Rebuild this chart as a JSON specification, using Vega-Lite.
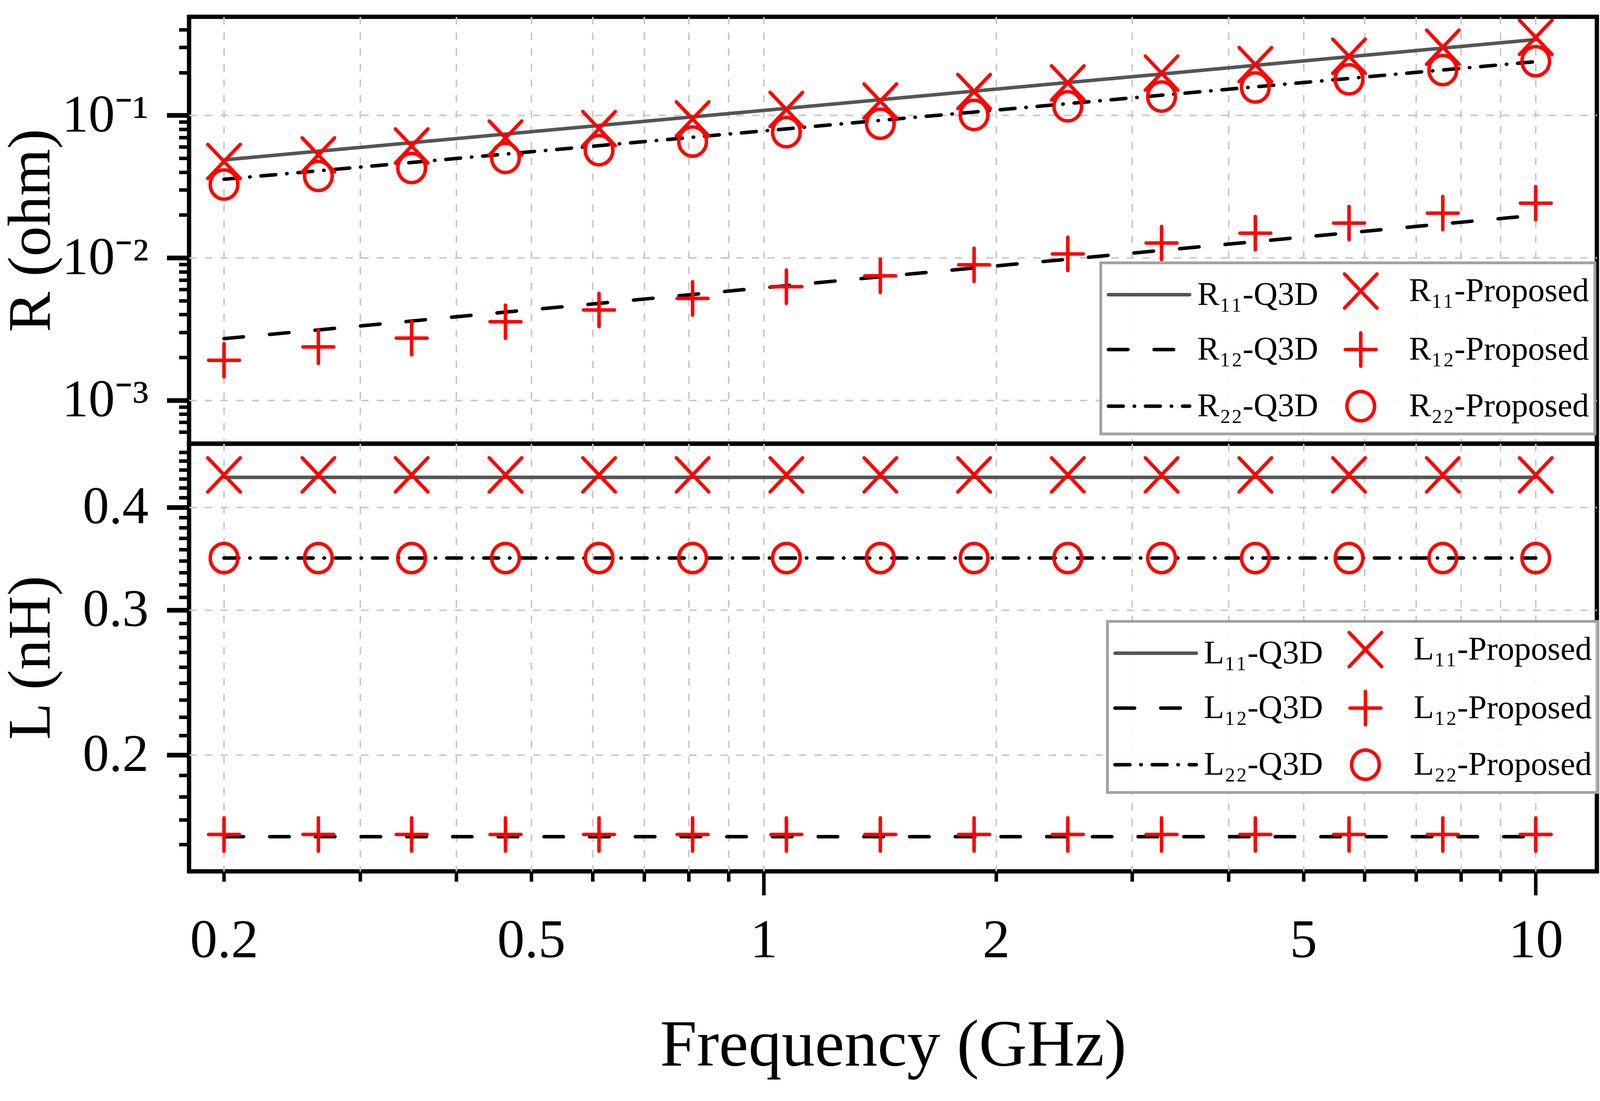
{
  "$schema": "https://vega.github.io/schema/vega-lite/v6.json",
  "background": "white",
  "padding": {"left": -4, "top": 3, "right": 5, "bottom": 5},
  "config": {
    "font": "Liberation Serif",
    "view": {"stroke": "black", "strokeWidth": 11},
    "axis": {
      "labelFont": "Liberation Serif", "titleFont": "Liberation Serif",
      "labelColor": "black", "titleColor": "black", "titleFontWeight": "normal",
      "gridColor": "#c8c8c8", "gridDash": [19, 21], "gridWidth": 4,
      "domain": false, "tickColor": "black", "labelFontSize": 140, "titleFontSize": 155,
      "labelOverlap": false, "labelFlush": false, "labelBound": false, "labelLimit": 2000
    },
    "legend": {"labelFont": "Liberation Serif", "labelColor": "black"}
  },
  "datasets": {
    "R": [
      {"f":0.2,"v":0.0487,"series":"R₁₁-Q3D","kind":"Q3D"},{"f":0.265,"v":0.056,"series":"R₁₁-Q3D","kind":"Q3D"},{"f":0.35,"v":0.0643,"series":"R₁₁-Q3D","kind":"Q3D"},{"f":0.463,"v":0.0739,"series":"R₁₁-Q3D","kind":"Q3D"},{"f":0.612,"v":0.0849,"series":"R₁₁-Q3D","kind":"Q3D"},{"f":0.809,"v":0.0976,"series":"R₁₁-Q3D","kind":"Q3D"},{"f":1.07,"v":0.112,"series":"R₁₁-Q3D","kind":"Q3D"},{"f":1.416,"v":0.1288,"series":"R₁₁-Q3D","kind":"Q3D"},{"f":1.873,"v":0.148,"series":"R₁₁-Q3D","kind":"Q3D"},{"f":2.477,"v":0.17,"series":"R₁₁-Q3D","kind":"Q3D"},{"f":3.276,"v":0.195,"series":"R₁₁-Q3D","kind":"Q3D"},{"f":4.333,"v":0.2245,"series":"R₁₁-Q3D","kind":"Q3D"},{"f":5.73,"v":0.258,"series":"R₁₁-Q3D","kind":"Q3D"},{"f":7.579,"v":0.2966,"series":"R₁₁-Q3D","kind":"Q3D"},{"f":10,"v":0.3405,"series":"R₁₁-Q3D","kind":"Q3D"},
      {"f":0.2,"v":0.0475,"series":"R₁₁-Proposed","kind":"Proposed"},{"f":0.265,"v":0.0528,"series":"R₁₁-Proposed","kind":"Proposed"},{"f":0.35,"v":0.061,"series":"R₁₁-Proposed","kind":"Proposed"},{"f":0.463,"v":0.0693,"series":"R₁₁-Proposed","kind":"Proposed"},{"f":0.612,"v":0.0807,"series":"R₁₁-Proposed","kind":"Proposed"},{"f":0.809,"v":0.0944,"series":"R₁₁-Proposed","kind":"Proposed"},{"f":1.07,"v":0.11,"series":"R₁₁-Proposed","kind":"Proposed"},{"f":1.416,"v":0.126,"series":"R₁₁-Proposed","kind":"Proposed"},{"f":1.873,"v":0.147,"series":"R₁₁-Proposed","kind":"Proposed"},{"f":2.477,"v":0.169,"series":"R₁₁-Proposed","kind":"Proposed"},{"f":3.276,"v":0.198,"series":"R₁₁-Proposed","kind":"Proposed"},{"f":4.333,"v":0.227,"series":"R₁₁-Proposed","kind":"Proposed"},{"f":5.73,"v":0.26,"series":"R₁₁-Proposed","kind":"Proposed"},{"f":7.579,"v":0.301,"series":"R₁₁-Proposed","kind":"Proposed"},{"f":10,"v":0.353,"series":"R₁₁-Proposed","kind":"Proposed"},
      {"f":0.2,"v":0.00271,"series":"R₁₂-Q3D","kind":"Q3D"},{"f":0.265,"v":0.00312,"series":"R₁₂-Q3D","kind":"Q3D"},{"f":0.35,"v":0.0036,"series":"R₁₂-Q3D","kind":"Q3D"},{"f":0.463,"v":0.00416,"series":"R₁₂-Q3D","kind":"Q3D"},{"f":0.612,"v":0.00479,"series":"R₁₂-Q3D","kind":"Q3D"},{"f":0.809,"v":0.00553,"series":"R₁₂-Q3D","kind":"Q3D"},{"f":1.07,"v":0.00638,"series":"R₁₂-Q3D","kind":"Q3D"},{"f":1.416,"v":0.00736,"series":"R₁₂-Q3D","kind":"Q3D"},{"f":1.873,"v":0.00849,"series":"R₁₂-Q3D","kind":"Q3D"},{"f":2.477,"v":0.00978,"series":"R₁₂-Q3D","kind":"Q3D"},{"f":3.276,"v":0.01128,"series":"R₁₂-Q3D","kind":"Q3D"},{"f":4.333,"v":0.013,"series":"R₁₂-Q3D","kind":"Q3D"},{"f":5.73,"v":0.015,"series":"R₁₂-Q3D","kind":"Q3D"},{"f":7.579,"v":0.0173,"series":"R₁₂-Q3D","kind":"Q3D"},{"f":10,"v":0.0199,"series":"R₁₂-Q3D","kind":"Q3D"},
      {"f":0.2,"v":0.00191,"series":"R₁₂-Proposed","kind":"Proposed"},{"f":0.265,"v":0.00237,"series":"R₁₂-Proposed","kind":"Proposed"},{"f":0.35,"v":0.00273,"series":"R₁₂-Proposed","kind":"Proposed"},{"f":0.463,"v":0.00356,"series":"R₁₂-Proposed","kind":"Proposed"},{"f":0.612,"v":0.0043,"series":"R₁₂-Proposed","kind":"Proposed"},{"f":0.809,"v":0.00519,"series":"R₁₂-Proposed","kind":"Proposed"},{"f":1.07,"v":0.00627,"series":"R₁₂-Proposed","kind":"Proposed"},{"f":1.416,"v":0.00748,"series":"R₁₂-Proposed","kind":"Proposed"},{"f":1.873,"v":0.00893,"series":"R₁₂-Proposed","kind":"Proposed"},{"f":2.477,"v":0.01065,"series":"R₁₂-Proposed","kind":"Proposed"},{"f":3.276,"v":0.0127,"series":"R₁₂-Proposed","kind":"Proposed"},{"f":4.333,"v":0.0149,"series":"R₁₂-Proposed","kind":"Proposed"},{"f":5.73,"v":0.01754,"series":"R₁₂-Proposed","kind":"Proposed"},{"f":7.579,"v":0.0206,"series":"R₁₂-Proposed","kind":"Proposed"},{"f":10,"v":0.0242,"series":"R₁₂-Proposed","kind":"Proposed"},
      {"f":0.2,"v":0.0356,"series":"R₂₂-Q3D","kind":"Q3D"},{"f":0.265,"v":0.0408,"series":"R₂₂-Q3D","kind":"Q3D"},{"f":0.35,"v":0.0467,"series":"R₂₂-Q3D","kind":"Q3D"},{"f":0.463,"v":0.0535,"series":"R₂₂-Q3D","kind":"Q3D"},{"f":0.612,"v":0.0613,"series":"R₂₂-Q3D","kind":"Q3D"},{"f":0.809,"v":0.0702,"series":"R₂₂-Q3D","kind":"Q3D"},{"f":1.07,"v":0.0804,"series":"R₂₂-Q3D","kind":"Q3D"},{"f":1.416,"v":0.0922,"series":"R₂₂-Q3D","kind":"Q3D"},{"f":1.873,"v":0.1055,"series":"R₂₂-Q3D","kind":"Q3D"},{"f":2.477,"v":0.1209,"series":"R₂₂-Q3D","kind":"Q3D"},{"f":3.276,"v":0.1385,"series":"R₂₂-Q3D","kind":"Q3D"},{"f":4.333,"v":0.1586,"series":"R₂₂-Q3D","kind":"Q3D"},{"f":5.73,"v":0.1816,"series":"R₂₂-Q3D","kind":"Q3D"},{"f":7.579,"v":0.2083,"series":"R₂₂-Q3D","kind":"Q3D"},{"f":10,"v":0.2382,"series":"R₂₂-Q3D","kind":"Q3D"},
      {"f":0.2,"v":0.0327,"series":"R₂₂-Proposed","kind":"Proposed"},{"f":0.265,"v":0.0376,"series":"R₂₂-Proposed","kind":"Proposed"},{"f":0.35,"v":0.0427,"series":"R₂₂-Proposed","kind":"Proposed"},{"f":0.463,"v":0.0503,"series":"R₂₂-Proposed","kind":"Proposed"},{"f":0.612,"v":0.057,"series":"R₂₂-Proposed","kind":"Proposed"},{"f":0.809,"v":0.0655,"series":"R₂₂-Proposed","kind":"Proposed"},{"f":1.07,"v":0.0762,"series":"R₂₂-Proposed","kind":"Proposed"},{"f":1.416,"v":0.0873,"series":"R₂₂-Proposed","kind":"Proposed"},{"f":1.873,"v":0.1007,"series":"R₂₂-Proposed","kind":"Proposed"},{"f":2.477,"v":0.1157,"series":"R₂₂-Proposed","kind":"Proposed"},{"f":3.276,"v":0.1355,"series":"R₂₂-Proposed","kind":"Proposed"},{"f":4.333,"v":0.157,"series":"R₂₂-Proposed","kind":"Proposed"},{"f":5.73,"v":0.179,"series":"R₂₂-Proposed","kind":"Proposed"},{"f":7.579,"v":0.208,"series":"R₂₂-Proposed","kind":"Proposed"},{"f":10,"v":0.24,"series":"R₂₂-Proposed","kind":"Proposed"}
    ],
    "L": [
      {"f":0.2,"v":0.435,"series":"L₁₁-Q3D","kind":"Q3D"},{"f":0.265,"v":0.435,"series":"L₁₁-Q3D","kind":"Q3D"},{"f":0.35,"v":0.435,"series":"L₁₁-Q3D","kind":"Q3D"},{"f":0.463,"v":0.435,"series":"L₁₁-Q3D","kind":"Q3D"},{"f":0.612,"v":0.435,"series":"L₁₁-Q3D","kind":"Q3D"},{"f":0.809,"v":0.435,"series":"L₁₁-Q3D","kind":"Q3D"},{"f":1.07,"v":0.435,"series":"L₁₁-Q3D","kind":"Q3D"},{"f":1.416,"v":0.435,"series":"L₁₁-Q3D","kind":"Q3D"},{"f":1.873,"v":0.435,"series":"L₁₁-Q3D","kind":"Q3D"},{"f":2.477,"v":0.435,"series":"L₁₁-Q3D","kind":"Q3D"},{"f":3.276,"v":0.435,"series":"L₁₁-Q3D","kind":"Q3D"},{"f":4.333,"v":0.435,"series":"L₁₁-Q3D","kind":"Q3D"},{"f":5.73,"v":0.435,"series":"L₁₁-Q3D","kind":"Q3D"},{"f":7.579,"v":0.435,"series":"L₁₁-Q3D","kind":"Q3D"},{"f":10,"v":0.435,"series":"L₁₁-Q3D","kind":"Q3D"},
      {"f":0.2,"v":0.438,"series":"L₁₁-Proposed","kind":"Proposed"},{"f":0.265,"v":0.438,"series":"L₁₁-Proposed","kind":"Proposed"},{"f":0.35,"v":0.438,"series":"L₁₁-Proposed","kind":"Proposed"},{"f":0.463,"v":0.438,"series":"L₁₁-Proposed","kind":"Proposed"},{"f":0.612,"v":0.438,"series":"L₁₁-Proposed","kind":"Proposed"},{"f":0.809,"v":0.438,"series":"L₁₁-Proposed","kind":"Proposed"},{"f":1.07,"v":0.438,"series":"L₁₁-Proposed","kind":"Proposed"},{"f":1.416,"v":0.438,"series":"L₁₁-Proposed","kind":"Proposed"},{"f":1.873,"v":0.438,"series":"L₁₁-Proposed","kind":"Proposed"},{"f":2.477,"v":0.438,"series":"L₁₁-Proposed","kind":"Proposed"},{"f":3.276,"v":0.438,"series":"L₁₁-Proposed","kind":"Proposed"},{"f":4.333,"v":0.438,"series":"L₁₁-Proposed","kind":"Proposed"},{"f":5.73,"v":0.438,"series":"L₁₁-Proposed","kind":"Proposed"},{"f":7.579,"v":0.438,"series":"L₁₁-Proposed","kind":"Proposed"},{"f":10,"v":0.438,"series":"L₁₁-Proposed","kind":"Proposed"},
      {"f":0.2,"v":0.159,"series":"L₁₂-Q3D","kind":"Q3D"},{"f":0.265,"v":0.159,"series":"L₁₂-Q3D","kind":"Q3D"},{"f":0.35,"v":0.159,"series":"L₁₂-Q3D","kind":"Q3D"},{"f":0.463,"v":0.159,"series":"L₁₂-Q3D","kind":"Q3D"},{"f":0.612,"v":0.159,"series":"L₁₂-Q3D","kind":"Q3D"},{"f":0.809,"v":0.159,"series":"L₁₂-Q3D","kind":"Q3D"},{"f":1.07,"v":0.159,"series":"L₁₂-Q3D","kind":"Q3D"},{"f":1.416,"v":0.159,"series":"L₁₂-Q3D","kind":"Q3D"},{"f":1.873,"v":0.159,"series":"L₁₂-Q3D","kind":"Q3D"},{"f":2.477,"v":0.159,"series":"L₁₂-Q3D","kind":"Q3D"},{"f":3.276,"v":0.159,"series":"L₁₂-Q3D","kind":"Q3D"},{"f":4.333,"v":0.159,"series":"L₁₂-Q3D","kind":"Q3D"},{"f":5.73,"v":0.159,"series":"L₁₂-Q3D","kind":"Q3D"},{"f":7.579,"v":0.159,"series":"L₁₂-Q3D","kind":"Q3D"},{"f":10,"v":0.159,"series":"L₁₂-Q3D","kind":"Q3D"},
      {"f":0.2,"v":0.16,"series":"L₁₂-Proposed","kind":"Proposed"},{"f":0.265,"v":0.16,"series":"L₁₂-Proposed","kind":"Proposed"},{"f":0.35,"v":0.16,"series":"L₁₂-Proposed","kind":"Proposed"},{"f":0.463,"v":0.16,"series":"L₁₂-Proposed","kind":"Proposed"},{"f":0.612,"v":0.16,"series":"L₁₂-Proposed","kind":"Proposed"},{"f":0.809,"v":0.16,"series":"L₁₂-Proposed","kind":"Proposed"},{"f":1.07,"v":0.16,"series":"L₁₂-Proposed","kind":"Proposed"},{"f":1.416,"v":0.16,"series":"L₁₂-Proposed","kind":"Proposed"},{"f":1.873,"v":0.16,"series":"L₁₂-Proposed","kind":"Proposed"},{"f":2.477,"v":0.16,"series":"L₁₂-Proposed","kind":"Proposed"},{"f":3.276,"v":0.16,"series":"L₁₂-Proposed","kind":"Proposed"},{"f":4.333,"v":0.16,"series":"L₁₂-Proposed","kind":"Proposed"},{"f":5.73,"v":0.16,"series":"L₁₂-Proposed","kind":"Proposed"},{"f":7.579,"v":0.16,"series":"L₁₂-Proposed","kind":"Proposed"},{"f":10,"v":0.16,"series":"L₁₂-Proposed","kind":"Proposed"},
      {"f":0.2,"v":0.347,"series":"L₂₂-Q3D","kind":"Q3D"},{"f":0.265,"v":0.347,"series":"L₂₂-Q3D","kind":"Q3D"},{"f":0.35,"v":0.347,"series":"L₂₂-Q3D","kind":"Q3D"},{"f":0.463,"v":0.347,"series":"L₂₂-Q3D","kind":"Q3D"},{"f":0.612,"v":0.347,"series":"L₂₂-Q3D","kind":"Q3D"},{"f":0.809,"v":0.347,"series":"L₂₂-Q3D","kind":"Q3D"},{"f":1.07,"v":0.347,"series":"L₂₂-Q3D","kind":"Q3D"},{"f":1.416,"v":0.347,"series":"L₂₂-Q3D","kind":"Q3D"},{"f":1.873,"v":0.347,"series":"L₂₂-Q3D","kind":"Q3D"},{"f":2.477,"v":0.347,"series":"L₂₂-Q3D","kind":"Q3D"},{"f":3.276,"v":0.347,"series":"L₂₂-Q3D","kind":"Q3D"},{"f":4.333,"v":0.347,"series":"L₂₂-Q3D","kind":"Q3D"},{"f":5.73,"v":0.347,"series":"L₂₂-Q3D","kind":"Q3D"},{"f":7.579,"v":0.347,"series":"L₂₂-Q3D","kind":"Q3D"},{"f":10,"v":0.347,"series":"L₂₂-Q3D","kind":"Q3D"},
      {"f":0.2,"v":0.347,"series":"L₂₂-Proposed","kind":"Proposed"},{"f":0.265,"v":0.347,"series":"L₂₂-Proposed","kind":"Proposed"},{"f":0.35,"v":0.347,"series":"L₂₂-Proposed","kind":"Proposed"},{"f":0.463,"v":0.347,"series":"L₂₂-Proposed","kind":"Proposed"},{"f":0.612,"v":0.347,"series":"L₂₂-Proposed","kind":"Proposed"},{"f":0.809,"v":0.347,"series":"L₂₂-Proposed","kind":"Proposed"},{"f":1.07,"v":0.347,"series":"L₂₂-Proposed","kind":"Proposed"},{"f":1.416,"v":0.347,"series":"L₂₂-Proposed","kind":"Proposed"},{"f":1.873,"v":0.347,"series":"L₂₂-Proposed","kind":"Proposed"},{"f":2.477,"v":0.347,"series":"L₂₂-Proposed","kind":"Proposed"},{"f":3.276,"v":0.347,"series":"L₂₂-Proposed","kind":"Proposed"},{"f":4.333,"v":0.347,"series":"L₂₂-Proposed","kind":"Proposed"},{"f":5.73,"v":0.347,"series":"L₂₂-Proposed","kind":"Proposed"},{"f":7.579,"v":0.347,"series":"L₂₂-Proposed","kind":"Proposed"},{"f":10,"v":0.347,"series":"L₂₂-Proposed","kind":"Proposed"}
    ]
  },
  "spacing": 0,
  "bounds": "flush",
  "resolve": {"scale": {"color": "independent", "shape": "independent", "strokeDash": "independent"}, "legend": {"color": "independent", "shape": "independent", "strokeDash": "independent"}},
  "vconcat": [
    {
      "width": 3604, "height": 1093,
      "data": {"name": "R"},
      "encoding": {
        "x": {"field": "f", "type": "quantitative",
          "scale": {"type": "log", "domain": [0.1802, 12], "nice": false},
          "axis": {"values": [0.2,0.3,0.4,0.5,0.6,0.7,0.8,0.9,1,2,3,4,5,6,7,8,9,10], "labels": false, "ticks": false, "title": null, "grid": true}},
        "y": {"field": "v", "type": "quantitative",
          "scale": {"type": "log", "domain": [0.000496, 0.492], "nice": false},
          "axis": {
            "values": [0.0006,0.0007,0.0008,0.0009,0.001,0.002,0.003,0.004,0.005,0.006,0.007,0.008,0.009,0.01,0.02,0.03,0.04,0.05,0.06,0.07,0.08,0.09,0.1,0.2,0.3,0.4],
            "title": "R (ohm)", "titleX": -325, "labelFontSize": 135,
            "labelExpr": "datum.value == 0.1 ? '10⁻¹' : datum.value == 0.01 ? '10⁻²' : datum.value == 0.001 ? '10⁻³' : ''",
            "tickSize": {"condition": {"test": "indexof([0.001,0.01,0.1], datum.value) >= 0", "value": 57}, "value": 26},
            "tickWidth": {"condition": {"test": "indexof([0.001,0.01,0.1], datum.value) >= 0", "value": 12}, "value": 9},
            "gridOpacity": {"condition": {"test": "indexof([0.001,0.01,0.1], datum.value) >= 0", "value": 1}, "value": 0},
            "labelPadding": 47, "grid": true
          }},
        "color": {"field": "series", "type": "nominal",
          "scale": {"domain": ["R₁₁-Q3D","R₁₁-Proposed","R₁₂-Q3D","R₁₂-Proposed","R₂₂-Q3D","R₂₂-Proposed"],
                    "range": ["#555555","#ff0000","#000000","#ff0000","#000000","#ff0000"]},
          "legend": {
            "orient": "none", "direction": "horizontal", "legendX": 2334, "legendY": 630, "columns": 2, "title": null,
            "symbolSize": 43264, "symbolStrokeWidth": 9, "labelFontSize": 85, "labelLimit": 2000,
            "labelOffset": 15, "columnPadding": 0, "rowPadding": 27, "padding": 15, "symbolOffset": 0,
            "strokeColor": "#a0a0a0", "fillColor": "rgba(255,255,255,0.88)",
            "encode": {
              "symbols": {"update": {"y": {"value": 57}, "strokeCap": {"value": "round"}, "fill": {"value": "transparent"}, "opacity": {"value": 1}}},
              "labels": {"update": {"y": {"value": 57}}},
              "legend": {"update": {"strokeWidth": {"value": 7}}}
            }
          }}
      },
      "layer": [
        {
          "transform": [{"filter": "datum.kind == 'Q3D'"}],
          "mark": {"type": "line", "strokeWidth": 9, "strokeCap": "round"},
          "encoding": {
            "strokeDash": {"field": "series", "type": "nominal",
              "scale": {"domain": ["R₁₁-Q3D","R₁₁-Proposed","R₁₂-Q3D","R₁₂-Proposed","R₂₂-Q3D","R₂₂-Proposed"],
                        "range": [[1,0],[1,0],[50,67],[1,0],[38,28,1,28],[1,0]]}}
          }
        },
        {
          "transform": [{"filter": "datum.kind == 'Proposed'"}],
          "mark": {"type": "point", "filled": false, "strokeWidth": 9, "strokeCap": "round", "size": 43264, "opacity": 1},
          "encoding": {
            "shape": {"field": "series", "type": "nominal",
              "scale": {"domain": ["R₁₁-Q3D","R₁₁-Proposed","R₁₂-Q3D","R₁₂-Proposed","R₂₂-Q3D","R₂₂-Proposed"],
                        "range": ["M-1,0L1,0","M-0.4,-0.42L0.4,0.42M-0.4,0.42L0.4,-0.42","M-1,0L1,0","M-0.38,0L0.38,0M0,-0.41L0,0.41","M-1,0L1,0","M0.34,0A0.34,0.36,0,1,1,-0.34,0A0.34,0.36,0,1,1,0.34,0Z"]}}
          }
        }
      ]
    },
    {
      "width": 3604, "height": 1095,
      "data": {"name": "L"},
      "encoding": {
        "x": {"field": "f", "type": "quantitative",
          "scale": {"type": "log", "domain": [0.1802, 12], "nice": false},
          "axis": {"values": [0.2,0.3,0.4,0.5,0.6,0.7,0.8,0.9,1,2,3,4,5,6,7,8,9,10],
            "title": "Frequency (GHz)", "titleFontSize": 170, "titleY": 362,
            "labelExpr": "indexof([0.2,0.5,1,2,5,10], datum.value) >= 0 ? toString(datum.value) : ''",
            "tickSize": {"condition": {"test": "datum.value == 1 || datum.value == 10", "value": 61}, "value": 26},
            "labelPadding": {"condition": {"test": "datum.value == 1 || datum.value == 10", "value": 47}, "value": 82},
            "tickWidth": 9, "grid": true
          }},
        "y": {"field": "v", "type": "quantitative",
          "scale": {"type": "log", "domain": [0.1443, 0.478], "nice": false},
          "axis": {
            "values": [0.15556,0.16667,0.17778,0.18889,0.2,0.21111,0.22222,0.23333,0.24444,0.25556,0.26667,0.27778,0.28889,0.3,0.31111,0.32222,0.33333,0.34444,0.35556,0.36667,0.37778,0.38889,0.4,0.41111,0.42222,0.43333,0.44444,0.45556,0.46667],
            "title": "L (nH)", "titleX": -325, "labelFontSize": 135,
            "labelExpr": "indexof([0.2,0.3,0.4], datum.value) >= 0 ? format(datum.value, '.1f') : ''",
            "tickSize": {"condition": {"test": "indexof([0.2,0.3,0.4], datum.value) >= 0", "value": 57}, "value": 26},
            "tickWidth": {"condition": {"test": "indexof([0.2,0.3,0.4], datum.value) >= 0", "value": 12}, "value": 9},
            "gridOpacity": {"condition": {"test": "indexof([0.2,0.3,0.4], datum.value) >= 0", "value": 1}, "value": 0},
            "labelPadding": 47, "grid": true
          }},
        "color": {"field": "series", "type": "nominal",
          "scale": {"domain": ["L₁₁-Q3D","L₁₁-Proposed","L₁₂-Q3D","L₁₂-Proposed","L₂₂-Q3D","L₂₂-Proposed"],
                    "range": ["#555555","#ff0000","#000000","#ff0000","#000000","#ff0000"]},
          "legend": {
            "orient": "none", "direction": "horizontal", "legendX": 2351, "legendY": 455, "columns": 2, "title": null,
            "symbolSize": 43264, "symbolStrokeWidth": 9, "labelFontSize": 85, "labelLimit": 2000,
            "labelOffset": 15, "columnPadding": 0, "rowPadding": 27, "padding": 15, "symbolOffset": 0,
            "strokeColor": "#a0a0a0", "fillColor": "rgba(255,255,255,0.88)",
            "encode": {
              "symbols": {"update": {"y": {"value": 57}, "strokeCap": {"value": "round"}, "fill": {"value": "transparent"}, "opacity": {"value": 1}}},
              "labels": {"update": {"y": {"value": 57}}},
              "legend": {"update": {"strokeWidth": {"value": 7}}}
            }
          }}
      },
      "layer": [
        {
          "transform": [{"filter": "datum.kind == 'Q3D'"}],
          "mark": {"type": "line", "strokeWidth": 9, "strokeCap": "round"},
          "encoding": {
            "strokeDash": {"field": "series", "type": "nominal",
              "scale": {"domain": ["L₁₁-Q3D","L₁₁-Proposed","L₁₂-Q3D","L₁₂-Proposed","L₂₂-Q3D","L₂₂-Proposed"],
                        "range": [[1,0],[1,0],[50,67],[1,0],[38,28,1,28],[1,0]]}}
          }
        },
        {
          "transform": [{"filter": "datum.kind == 'Proposed'"}],
          "mark": {"type": "point", "filled": false, "strokeWidth": 9, "strokeCap": "round", "size": 43264, "opacity": 1},
          "encoding": {
            "shape": {"field": "series", "type": "nominal",
              "scale": {"domain": ["L₁₁-Q3D","L₁₁-Proposed","L₁₂-Q3D","L₁₂-Proposed","L₂₂-Q3D","L₂₂-Proposed"],
                        "range": ["M-1,0L1,0","M-0.4,-0.42L0.4,0.42M-0.4,0.42L0.4,-0.42","M-1,0L1,0","M-0.38,0L0.38,0M0,-0.41L0,0.41","M-1,0L1,0","M0.34,0A0.34,0.36,0,1,1,-0.34,0A0.34,0.36,0,1,1,0.34,0Z"]}}
          }
        }
      ]
    }
  ]
}
